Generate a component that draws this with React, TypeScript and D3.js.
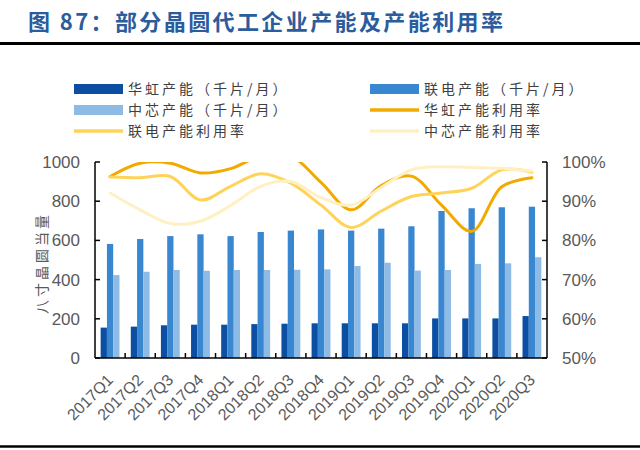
import * as d3 from "d3";

const quarters = [
  "2017Q1", "2017Q2", "2017Q3", "2017Q4",
  "2018Q1", "2018Q2", "2018Q3", "2018Q4",
  "2019Q1", "2019Q2", "2019Q3", "2019Q4",
  "2020Q1", "2020Q2", "2020Q3",
];

// capacity, thousand wafers / month
const huahongCap = [155, 160, 167, 170, 170, 173, 175, 177, 177, 177, 177, 202, 202, 202, 214];
const umcCap = [582, 607, 622, 631, 622, 643, 650, 656, 650, 660, 672, 750, 764, 769, 772];
const smicCap = [423, 440, 449, 445, 449, 449, 450, 452, 469, 486, 446, 449, 480, 483, 514];

// utilization, %
const huahongUtil = [96.3, 99.7, 99.7, 97.2, 98.3, 101.5, 101.5, 94.8, 87.8, 94, 96.4, 89, 82.3, 93.7, 96];
const umcUtil = [96.2, 96, 96.3, 90.3, 93.8, 97, 94.6, 89, 83.3, 87.5, 91.2, 92.1, 93.3, 98, 97.4];
const smicUtil = [92.1, 87.8, 84.3, 84.9, 88.9, 93.8, 95, 90.9, 89, 93.5, 98, 98.8, 98.6, 98.4, 97.7];

const barSeries = [
  { name: "华虹产能（千片/月）", values: huahongCap, color: "#0b4ea2" },
  { name: "联电产能（千片/月）", values: umcCap, color: "#3a87d1" },
  { name: "中芯产能（千片/月）", values: smicCap, color: "#8ebae6" },
];
const lineSeries = [
  { name: "华虹产能利用率", values: huahongUtil, color: "#f2aa00" },
  { name: "联电产能利用率", values: umcUtil, color: "#ffd258" },
  { name: "中芯产能利用率", values: smicUtil, color: "#fff0c4" },
];

const leftTicks = [0, 200, 400, 600, 800, 1000];
const rightTicks = [50, 60, 70, 80, 90, 100];

const W = 640;
const H = 450;
const left = 95;
const right = 547;
const top = 162;
const bottom = 358;

const numFont = "'Liberation Sans', Arial, sans-serif";
const cjkFont = "'Noto Sans CJK SC', sans-serif";

export default function App() {
  const x = d3.scaleBand<string>().domain(quarters).range([left, right]);
  const xs = d3
    .scaleBand<number>()
    .domain([0, 1, 2])
    .range([0, x.bandwidth()])
    .paddingInner(0)
    .paddingOuter(0.9);
  const y = d3.scaleLinear().domain([0, 1000]).range([bottom, top]);
  const yr = d3.scaleLinear().domain([50, 100]).range([bottom, top]);

  const line = d3
    .line<number>()
    .x((_, i) => (x(quarters[i]) ?? 0) + x.bandwidth() / 2)
    .y((d) => yr(d))
    .curve(d3.curveCatmullRom.alpha(0.5));

  // legend layout: two columns, three rows
  const legendItems = [
    ...barSeries.map((s) => ({ ...s, kind: "bar" })),
    ...lineSeries.map((s) => ({ ...s, kind: "line" })),
  ];
  const colX = [74, 370];
  const rowY = [89, 110, 131];

  return (
    <svg
      width={W}
      height={H}
      style={{ position: "absolute", left: 0, top: 0, background: "#fff" }}
    >
      <defs>
        <clipPath id="plot">
          <rect x={left} y={top} width={right - left} height={bottom - top} />
        </clipPath>
      </defs>

      <text
        x={28}
        y={30}
        fill="#2b5c9c"
        fontFamily={cjkFont}
        fontWeight="bold"
        fontSize={22}
        letterSpacing={2.4}
      >
        图 87：部分晶圆代工企业产能及产能利用率
      </text>
      <line x1={0} x2={W} y1={43.5} y2={43.5} stroke="#000" strokeWidth={3} />
      <line x1={0} x2={W} y1={446.5} y2={446.5} stroke="#000" strokeWidth={2.5} />

      {legendItems.map((d, i) => {
        const cx = colX[i % 2];
        const cy = rowY[Math.floor(i / 2)];
        return (
          <g key={d.name}>
            {d.kind === "bar" ? (
              <rect x={cx} y={cy - 5} width={49} height={10} fill={d.color} />
            ) : (
              <line x1={cx} x2={cx + 49} y1={cy} y2={cy} stroke={d.color} strokeWidth={3.5} />
            )}
            <text
              x={cx + 54}
              y={cy + 5}
              fontFamily={cjkFont}
              fontSize={14}
              letterSpacing={3}
              fill="#404040"
            >
              {d.name}
            </text>
          </g>
        );
      })}

      {barSeries.map((s, si) => (
        <g key={s.name} fill={s.color}>
          {s.values.map((v, i) => (
            <rect
              key={i}
              x={(x(quarters[i]) ?? 0) + (xs(si) ?? 0)}
              y={y(v)}
              width={xs.bandwidth()}
              height={y(0) - y(v)}
            />
          ))}
        </g>
      ))}

      <g clipPath="url(#plot)">
        {lineSeries.map((s) => (
          <path
            key={s.name}
            d={line(s.values) ?? ""}
            fill="none"
            stroke={s.color}
            strokeWidth={3}
            strokeLinecap="round"
          />
        ))}
      </g>

      {/* left axis */}
      <line x1={left} x2={left} y1={top} y2={bottom} stroke="#000" strokeWidth={1.5} />
      {leftTicks.map((t) => (
        <g key={t}>
          <line x1={left} x2={left + 5} y1={y(t)} y2={y(t)} stroke="#000" strokeWidth={1.5} />
          <text
            x={80}
            y={y(t) + 6}
            textAnchor="end"
            fontFamily={numFont}
            fontSize={17}
            fill="#595959"
          >
            {t}
          </text>
        </g>
      ))}
      <text
        transform={`translate(47, 263) rotate(-90)`}
        textAnchor="middle"
        fontFamily={cjkFont}
        fontSize={14}
        letterSpacing={3}
        fill="#595959"
      >
        八寸晶圆当量
      </text>

      {/* right axis */}
      <line x1={right} x2={right} y1={top} y2={bottom} stroke="#000" strokeWidth={1.5} />
      {rightTicks.map((t) => (
        <g key={t}>
          <line x1={right - 5} x2={right} y1={yr(t)} y2={yr(t)} stroke="#000" strokeWidth={1.5} />
          <text
            x={562}
            y={yr(t) + 6}
            fontFamily={numFont}
            fontSize={17}
            fill="#595959"
          >
            {t}%
          </text>
        </g>
      ))}

      {/* bottom axis */}
      <line x1={left} x2={right} y1={bottom} y2={bottom} stroke="#000" strokeWidth={1.5} />
      {quarters.map((q, i) => {
        const x0 = x(q) ?? 0;
        const cx = x0 + x.bandwidth() / 2;
        return (
          <g key={q}>
            {i > 0 && (
              <line x1={x0} x2={x0} y1={bottom - 5} y2={bottom} stroke="#000" strokeWidth={1.5} />
            )}
            <text
              transform={`translate(${cx + 4}, ${bottom + 23}) rotate(-45)`}
              textAnchor="end"
              fontFamily={numFont}
              fontSize={16}
              fill="#595959"
            >
              {q}
            </text>
          </g>
        );
      })}
    </svg>
  );
}
